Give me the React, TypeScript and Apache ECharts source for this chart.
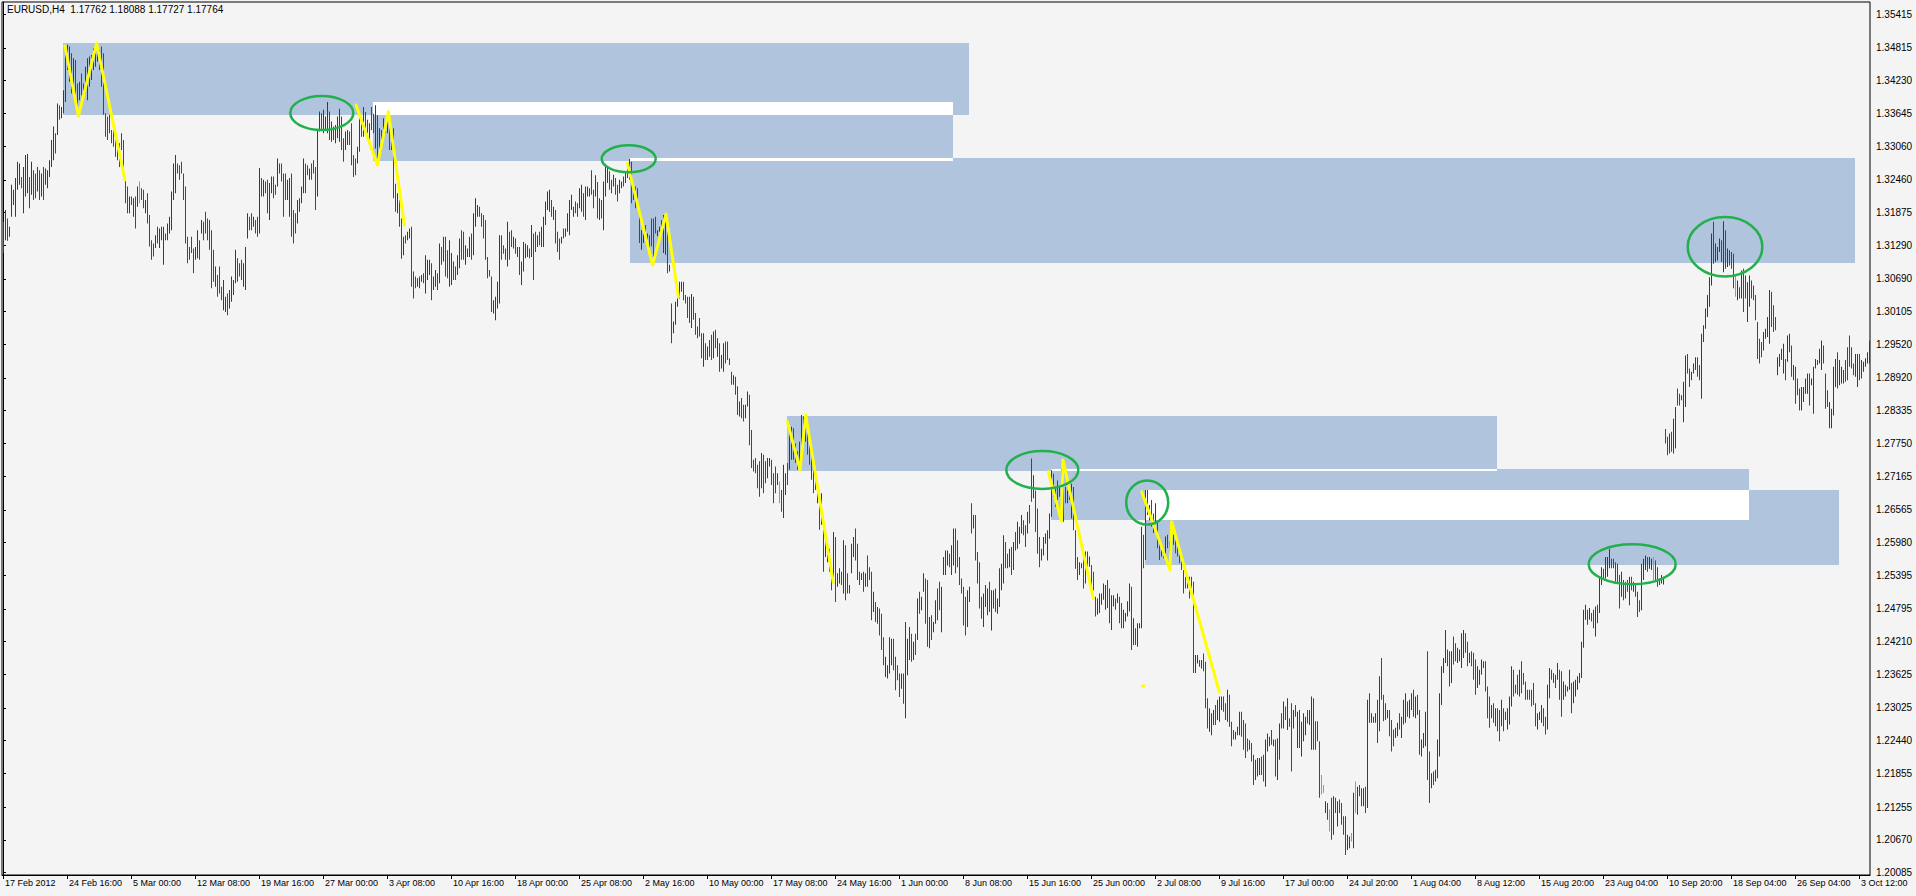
import React, { useEffect, useRef } from 'react';
import * as echarts from 'echarts';

// ---- chart header ----
const SYMBOL_TEXT = 'EURUSD,H4  1.17762 1.18088 1.17727 1.17764';

// ---- price encoding: pips above BASE_PRICE ----
const BASE_PRICE = 1.2;
const PIP = 0.0001;

// ---- time axis: one label every 32 H4 bars ----
const BARS_PER_LABEL = 32;
const X_LABELS = [
  '17 Feb 2012', '24 Feb 16:00', '5 Mar 00:00', '12 Mar 08:00', '19 Mar 16:00', '27 Mar 00:00',
  '3 Apr 08:00', '10 Apr 16:00', '18 Apr 00:00', '25 Apr 08:00', '2 May 16:00', '10 May 00:00',
  '17 May 08:00', '24 May 16:00', '1 Jun 00:00', '8 Jun 08:00', '15 Jun 16:00', '25 Jun 00:00',
  '2 Jul 08:00', '9 Jul 16:00', '17 Jul 00:00', '24 Jul 20:00', '1 Aug 04:00', '8 Aug 12:00',
  '15 Aug 20:00', '23 Aug 04:00', '10 Sep 20:00', '18 Sep 04:00', '26 Sep 04:00', '3 Oct 12:00',
];

// ---- price axis ----
const Y_MIN = 1.20042;
const Y_MAX = 1.35635;
const Y_TICKS = [
  1.35415, 1.34815, 1.3423, 1.33645, 1.3306, 1.3246, 1.31875, 1.3129, 1.3069, 1.30105,
  1.2952, 1.2892, 1.28335, 1.2775, 1.27165, 1.26565, 1.2598, 1.25395, 1.24795, 1.2421,
  1.23625, 1.23025, 1.2244, 1.21855, 1.21255, 1.2067, 1.20085,
];

// ---- H4 bars: high / low in pips above BASE_PRICE ----
const HIGH_PIPS = [
  1171,1192,1177,1162,1237,1228,1249,1278,1275,1251,
  1269,1290,1292,1251,1278,1263,1257,1269,1263,1257,
  1269,1266,1263,1281,1317,1341,1329,1382,1379,1376,
  1406,1484,1487,1484,1472,1463,1460,1418,1421,1436,
  1418,1448,1463,1466,1469,1481,1481,1490,1478,1484,
  1472,1365,1359,1362,1335,1341,1329,1317,1311,1329,
  1317,1246,1234,1216,1216,1213,1216,1234,1243,1231,
  1228,1210,1222,1183,1138,1132,1147,1162,1159,1162,
  1162,1150,1168,1180,1225,1275,1290,1275,1272,1278,
  1257,1234,1144,1126,1144,1123,1126,1156,1138,1174,
  1171,1189,1177,1174,1156,1121,1091,1076,1091,1055,
  1067,1037,1043,1049,1073,1067,1121,1106,1097,1103,
  1097,1126,1186,1180,1186,1180,1174,1180,1267,1249,
  1246,1243,1246,1240,1252,1252,1237,1284,1275,1275,
  1257,1257,1246,1249,1257,1192,1186,1210,1213,1234,
  1284,1275,1272,1266,1275,1281,1269,1335,1368,1365,
  1371,1359,1385,1368,1350,1341,1344,1359,1373,1359,
  1320,1332,1335,1332,1347,1290,1284,1305,1356,1350,
  1376,1367,1353,1347,1376,1364,1379,1361,1338,1335,
  1356,1341,1367,1347,1335,1338,1239,1222,1210,1177,
  1144,1147,1153,1159,1162,1082,1073,1070,1073,1076,
  1079,1111,1103,1103,1097,1073,1085,1079,1132,1126,
  1144,1144,1120,1138,1115,1100,1091,1111,1141,1156,
  1153,1129,1123,1144,1150,1186,1213,1201,1198,1186,
  1183,1174,1108,1085,1073,1031,1037,1064,1147,1147,
  1129,1123,1171,1153,1156,1144,1141,1126,1126,1100,
  1135,1132,1129,1123,1165,1150,1153,1147,1153,1162,
  1180,1207,1225,1228,1210,1198,1192,1153,1141,1144,
  1159,1159,1186,1210,1219,1198,1207,1204,1231,1237,
  1222,1234,1234,1231,1263,1228,1254,1242,1213,1210,
  1243,1270,1267,1261,1246,1255,1249,1237,1246,1243,
  1252,1261,1275,1283,1278,1237,1234,1231,1180,1156,
  1150,1165,1150,1147,1177,1177,1180,1156,1162,1174,
  1183,1180,1156,1094,1025,993,1028,1034,1064,1064,
  1064,1040,1037,1037,1042,1037,1008,984,999,972,
  972,954,948,960,969,975,978,963,954,933,
  954,957,957,927,903,897,894,877,850,856,
  844,844,868,862,799,746,749,737,743,758,
  755,743,749,749,746,722,734,722,707,692,
  737,722,740,793,805,802,775,761,778,826,
  823,826,802,790,775,749,710,686,686,686,
  629,602,587,587,546,617,608,543,552,546,
  602,593,543,522,596,608,623,596,546,543,
  546,543,575,554,546,510,492,483,480,471,
  429,394,379,429,426,426,394,379,364,364,
  364,456,426,447,435,421,435,498,510,501,
  543,534,531,465,468,456,495,516,528,519,
  572,584,584,578,593,623,623,602,572,534,
  519,501,513,519,668,647,647,581,563,501,
  507,522,516,528,513,513,516,498,552,560,
  611,599,578,587,590,599,617,635,626,647,
  638,629,653,665,748,718,691,659,608,587,
  608,614,620,650,727,721,694,709,697,730,
  718,697,691,691,703,697,620,572,563,561,
  576,582,582,573,558,546,501,498,507,507,
  525,522,531,516,504,504,498,507,501,490,
  478,472,493,525,519,463,445,454,454,626,
  612,692,692,665,674,650,668,635,606,594,
  585,609,612,600,612,612,603,600,582,567,
  549,537,528,537,537,528,397,397,388,388,
  400,385,320,302,293,299,308,317,323,323,
  323,311,335,326,278,263,260,269,296,296,
  281,275,248,245,240,219,210,213,213,216,
  219,246,257,251,263,246,246,248,275,293,
  314,305,320,284,311,299,308,296,299,278,
  293,287,299,299,323,320,279,279,243,183,
  165,136,133,121,142,145,142,136,139,133,
  109,109,76,73,79,151,171,162,165,159,
  159,162,317,329,293,287,293,317,359,392,
  326,311,299,299,281,264,267,276,293,287,
  317,329,314,317,329,335,323,326,299,246,
  258,296,404,225,186,189,192,246,329,377,
  392,442,407,404,404,430,418,410,407,436,
  442,436,421,401,404,401,389,377,371,389,
  386,386,341,323,308,311,302,302,299,317,
  302,296,302,323,377,371,344,362,371,386,
  365,350,335,335,335,347,311,293,296,308,
  302,287,344,374,371,365,362,383,371,368,
  350,344,341,371,347,350,353,359,365,421,
  478,487,478,481,472,478,484,487,537,554,
  551,572,572,587,569,569,563,560,540,546,
  531,528,531,537,537,528,522,510,495,560,
  569,575,572,572,569,572,566,554,534,540,
  537,801,787,793,796,819,840,873,864,861,
  885,932,935,909,903,918,929,929,915,971,
  986,1016,1040,1072,1150,1171,1132,1126,1141,1138,
  1172,1156,1123,1120,1117,1114,1075,1066,1054,1084,
  1087,1075,1063,1075,1066,1057,1040,992,962,956,
  974,980,1001,1049,1046,1022,1001,929,935,944,
  953,926,968,971,950,915,912,891,873,876,
  876,891,900,900,891,912,926,924,944,959,
  950,900,870,849,837,912,926,938,924,912,
  906,924,947,968,947,918,935,935,935,924,
  921,927,938,959,
];

const LOW_PIPS = [
  1115,1138,1137,1144,1180,1201,1180,1228,1237,1231,
  1186,1216,1222,1195,1219,1210,1213,1225,1210,1216,
  1210,1237,1231,1251,1269,1281,1293,1326,1353,1356,
  1365,1385,1442,1421,1400,1412,1394,1362,1388,1397,
  1388,1400,1388,1412,1424,1442,1448,1457,1442,1412,
  1362,1323,1317,1329,1311,1305,1287,1281,1269,1299,
  1257,1204,1186,1186,1201,1180,1159,1198,1204,1210,
  1195,1186,1168,1127,1103,1109,1124,1132,1124,1138,
  1094,1138,1138,1150,1156,1210,1222,1257,1246,1257,
  1210,1132,1097,1103,1115,1079,1103,1106,1103,1150,
  1138,1150,1138,1121,1052,1064,1055,1037,1043,1031,
  1013,1010,1004,1016,1028,1040,1061,1064,1073,1067,
  1055,1049,1141,1156,1156,1162,1150,1144,1150,1216,
  1216,1222,1186,1174,1222,1213,1219,1234,1257,1243,
  1180,1210,1210,1180,1144,1132,1150,1168,1189,1204,
  1222,1222,1254,1246,1246,1257,1192,1216,1332,1335,
  1329,1335,1329,1317,1314,1317,1311,1320,1314,1299,
  1278,1299,1308,1308,1272,1251,1254,1275,1296,1323,
  1323,1335,1329,1317,1335,1329,1302,1278,1302,1296,
  1317,1329,1329,1299,1299,1213,1189,1186,1162,1105,
  1111,1132,1138,1141,1055,1034,1052,1055,1052,1064,
  1061,1043,1067,1076,1031,1049,1055,1049,1061,1094,
  1100,1073,1070,1055,1058,1067,1067,1076,1088,1103,
  1103,1094,1108,1108,1103,1111,1162,1180,1180,1162,
  1141,1103,1070,1073,1010,1007,995,1016,1025,1103,
  1114,1103,1091,1103,1126,1123,1114,1108,1076,1058,
  1082,1106,1108,1106,1108,1067,1117,1126,1129,1126,
  1126,1165,1192,1189,1180,1174,1132,1117,1103,1132,
  1141,1144,1153,1147,1192,1180,1186,1180,1195,1189,
  1180,1174,1216,1216,1219,1195,1216,1177,1174,1177,
  1156,1216,1240,1228,1222,1234,1219,1207,1222,1231,
  1234,1240,1249,1246,1204,1210,1195,1207,1133,1121,
  1133,1139,1139,1121,1127,1097,1150,1145,1153,1156,
  1115,1112,1079,1082,954,972,987,1019,1034,1046,
  1031,1025,999,990,981,996,969,963,966,927,
  912,924,924,930,924,927,945,930,903,909,
  903,918,924,915,880,880,862,826,823,820,
  814,820,841,772,731,725,722,695,680,695,
  686,704,713,734,701,668,686,701,668,653,
  642,683,701,728,746,746,740,728,734,740,
  790,778,755,737,710,686,692,668,621,630,
  546,572,563,546,513,525,492,519,525,522,
  507,495,507,507,543,572,566,531,522,531,
  510,519,519,531,459,474,456,453,432,406,
  379,358,355,364,379,370,334,352,322,337,
  310,284,361,388,385,388,397,424,471,477,
  510,453,412,409,424,438,453,459,477,438,
  540,540,557,554,540,557,543,554,522,507,
  450,432,447,492,614,623,566,525,480,462,
  447,483,468,474,441,480,474,471,483,513,
  525,552,552,554,540,549,584,587,596,614,
  611,590,614,632,671,677,617,578,554,566,
  575,596,566,605,644,680,662,674,680,691,
  635,668,668,674,641,620,551,531,540,552,
  516,525,537,555,519,513,466,469,472,487,
  496,478,481,454,442,484,478,490,454,445,
  445,457,466,475,406,415,415,412,445,445,
  552,567,647,638,626,615,632,588,567,573,
  570,564,588,561,573,594,579,573,561,549,
  507,516,516,498,507,365,365,382,376,373,
  368,302,266,260,254,272,272,281,278,299,
  296,281,278,269,234,246,246,254,254,251,
  228,213,225,228,207,165,174,180,183,183,
  171,162,225,234,237,234,180,174,210,266,
  266,281,263,269,189,266,287,231,231,216,
  243,254,275,272,228,228,228,243,142,148,
  151,115,103,82,67,76,115,91,115,94,
  76,40,49,52,64,52,115,112,145,127,
  127,115,124,276,276,276,276,240,261,317,
  279,281,284,252,225,234,249,252,264,249,
  273,276,287,284,299,287,284,290,219,216,
  231,234,174,133,159,165,171,177,216,308,
  365,383,377,341,347,380,386,383,386,374,
  392,401,377,383,377,353,326,338,344,362,
  374,332,284,267,284,276,270,261,243,270,
  261,281,264,273,305,323,329,326,323,329,
  344,317,317,317,305,308,270,264,281,276,
  270,255,264,320,353,347,338,353,317,287,
  317,323,332,335,293,311,323,335,347,356,
  410,460,451,460,457,445,430,454,472,522,
  531,534,537,552,552,552,528,525,480,501,
  495,498,510,486,513,510,501,465,474,477,
  531,549,546,551,549,531,531,519,522,525,
  523,775,754,757,760,757,766,843,843,852,
  813,840,900,876,888,900,906,894,888,855,
  956,980,1001,1019,1057,1096,1099,1102,1117,1099,
  1081,1087,1090,1093,1087,1052,1037,1031,1034,1034,
  1010,1034,992,1019,1034,1031,995,926,918,929,
  941,962,965,953,983,974,977,897,912,924,
  900,888,921,938,894,888,846,861,834,834,
  849,864,864,843,879,828,909,915,918,906,
  918,837,840,802,802,825,876,873,879,882,
  882,885,888,912,909,897,894,876,888,891,
  903,912,918,918,
];

// bar colour per bar: g = up, r = down, l = up (light)
const BAR_DIRS = [
  'ggrggggggr', 'gggrgrrgrg', 'rgggggrgrg', 'ggggrgrrgr', 'rgggggggrr', 'rrrrrrrrrr',
  'rrrgrgrglr', 'rgrrrrgrgg', 'grgggggrrr', 'rrrrrrggrg', 'rrrrrrgrrr', 'ggrggggrrr',
  'gggrrgrrgr', 'grrggrrgrr', 'rrggrrrggg', 'grrgrrrggr', 'gggr',
  'grgggrrggr', 'rrrggrgrrg', 'rrgrgrgggr', 'rrrgrrgrgg', 'rrrgggrggg', 'rggrgrgrrg',
  'grrggrrggg', 'rgggrrrrrr', 'rggggrrrgr', 'rgrgrggggr', 'grrgrggggg', 'rgrrrgrggg',
  'ggrrggrggg', 'rrgrg',
  'rgggrrgrrg', 'grgrgrrrrr', 'ggrgrrrrgg', 'rggrgrgggg', 'grrrrgrrrr', 'rgrgrrgrgr',
  'ggrrrrgrrg', 'rrggrrrrrr', 'grrggrrrgl', 'rggrggrrrg', 'grgrrrrrgr', 'g',
  'rggrrgrggr', 'grrrggrrrg', 'rgrrrgrgrr', 'rggggrrrrg', 'rgggrgrgrg', 'grrgrggrrg',
  'gggrggrrrr', 'rrggrgrrrr', 'gggrggrggg', 'grrgrgrggg', 'rrgrrgrrrg', 'gggggrrrgg',
  'rrgrgrrrg',
  'grgrgrrrgg', 'gggrrggrgr', 'rggggrgrgg', 'grgrgrrgrr', 'grgrrgrrrr', 'rrrrrrrggr',
  'grrrgggrgg', 'grrgrrrggg', 'rrrrgrrggg', 'rrgggrgrgg', 'rgrgrrgrgr', 'gggrggr',
  'rrrllgrlrg', 'rgrrrrgglg', 'lgrrgrgrgg', 'grgrrrgrrr', 'ggrgggrggr', 'grrgggrrgr',
  'ggggggrrgr', 'rggggrrgrr', 'rgggrrrrgr', 'grrgrrgggr', 'rrgrrrrrrr', 'rgggrrggrr',
  'rgrrgrggrg', 'ggggggrgrr', 'grg',
  'grgggrrrrr', 'grrrgrgrrr', 'gggrgglrrg', 'ggrrgrggrr', 'gggrrgggrr', 'ggggggrggg',
  'rgrgrrrlgr', 'grrggrrrrr', 'rggggrrrgg', 'ggrggrgrrr', 'ggggrgggrg', 'grrrggggrg',
  'ggrrrrrggr', 'ggggg',
].join('');
const DIR_CODES = 'grl';
const BAR_COLORS = ['#006400', '#ee0000', '#2fe02f'];

// ---- supply zones: [first bar, last bar, top price, bottom price] ----
const ZONE_A = [30, 483, 1.34902, 1.33616];
const ZONE_B = [185, 475, 1.33848, 1.32795];
const ZONE_C = [313.5, 926, 1.32848, 1.30973];
const ZONE_D = [392, 747, 1.2824, 1.27258];
const ZONE_E = [524, 873, 1.27294, 1.26383];
const ZONE_F = [571, 918, 1.26919, 1.2558];
const ZONES = [ZONE_A, ZONE_B, ZONE_C, ZONE_D, ZONE_E, ZONE_F];

// ---- zigzag swings: [bar, price] points ----
const SWING_1 = [[31, 1.34848], [37.7, 1.33598], [46.8, 1.34896], [61, 1.32455]];
const SWING_2 = [[176.5, 1.33795], [187.2, 1.32723], [192.7, 1.33675], [200.7, 1.3165]];
const SWING_3 = [[312.2, 1.32753], [324.8, 1.30937], [331.5, 1.31848], [337.7, 1.3037]];
const SWING_4 = [[392.2, 1.28138], [398.5, 1.27276], [401.35, 1.28258], [415.15, 1.25263]];
const SWING_5 = [[522.65, 1.27245], [529.2, 1.26365], [530, 1.27454], [545.15, 1.24984]];
const SWING_6 = [[569.35, 1.26888], [583.5, 1.2549], [584.35, 1.26352], [608.15, 1.23316]];
const SWING_7 = [[569.7, 1.2342], [570.5, 1.2342]];
const SWINGS = [SWING_1, SWING_2, SWING_3, SWING_4, SWING_5, SWING_6, SWING_7];

// ---- highlighted tops: [centre bar, centre price, x radius in bars, y radius in price] ----
const MARK_1 = [159.4, 1.33652, 15.75, 0.00304];
const MARK_2 = [312.85, 1.32834, 13.5, 0.00241];
const MARK_3 = [519.65, 1.27276, 18, 0.00339];
const MARK_4 = [572.1, 1.26695, 10.5, 0.00393];
const MARK_5 = [861, 1.31264, 18.65, 0.0053];
const MARK_6 = [814.6, 1.25593, 21.75, 0.00357];
const MARKS = [MARK_1, MARK_2, MARK_3, MARK_4, MARK_5, MARK_6];

const FONT = 'Tahoma, "Liberation Sans", Arial, sans-serif';

function buildOption() {
  const n = Math.min(HIGH_PIPS.length, LOW_PIPS.length, BAR_DIRS.length);
  const bars: number[][] = [];
  for (let i = 0; i < n; i++) {
    bars.push([
      i,
      BASE_PRICE + HIGH_PIPS[i] * PIP,
      BASE_PRICE + LOW_PIPS[i] * PIP,
      Math.max(0, DIR_CODES.indexOf(BAR_DIRS[i])),
    ]);
  }

  // zones are filled; where two zones overlap the fill cancels out to white
  const zoneData: number[][] = ZONES.map((z) => [z[0], z[1], z[2], z[3], 0]);
  for (let a = 0; a < ZONES.length; a++) {
    for (let b = a + 1; b < ZONES.length; b++) {
      const za = ZONES[a];
      const zb = ZONES[b];
      const x1 = Math.max(za[0], zb[0]);
      const x2 = Math.min(za[1], zb[1]);
      const top = Math.min(za[2], zb[2]);
      const bot = Math.max(za[3], zb[3]);
      if (x1 < x2 && top > bot) zoneData.push([x1, x2, top, bot, 1]);
    }
  }

  const labelIdx = X_LABELS.map((_, k) => k * BARS_PER_LABEL);

  const swingSeries = SWINGS.map((pts) => ({
    type: 'line',
    data: pts,
    showSymbol: false,
    symbol: 'none',
    silent: true,
    z: 4,
    lineStyle: { color: '#ffff00', width: 3, cap: 'round', join: 'round' },
  }));

  return {
    animation: false,
    backgroundColor: '#f4f4f4',
    title: {
      text: SYMBOL_TEXT,
      left: 2,
      top: 0,
      padding: [4, 5, 0, 5],
      textStyle: { fontSize: 10, fontWeight: 'normal', color: '#000', fontFamily: FONT },
    },
    grid: {
      left: 2,
      right: 46,
      top: 2,
      bottom: 21,
      show: true,
      borderColor: '#000',
      borderWidth: 1,
      backgroundColor: 'transparent',
    },
    xAxis: {
      type: 'value',
      min: -0.5,
      max: n - 0.5,
      axisLine: { show: true, lineStyle: { color: '#000', width: 1 } },
      axisTick: { show: true, customValues: labelIdx, length: 4, lineStyle: { color: '#000' } },
      axisLabel: {
        customValues: labelIdx,
        formatter: (v: number) => X_LABELS[Math.round(v / BARS_PER_LABEL)] ?? '',
        align: 'left',
        padding: [0, 0, 0, 2],
        margin: 3,
        fontSize: 9,
        color: '#000',
        fontFamily: FONT,
      },
      splitLine: { show: false },
    },
    yAxis: {
      type: 'value',
      position: 'right',
      min: Y_MIN,
      max: Y_MAX,
      axisLine: { show: true, lineStyle: { color: '#000', width: 1 } },
      axisTick: { show: true, customValues: Y_TICKS, length: 3, lineStyle: { color: '#000' } },
      axisLabel: {
        customValues: Y_TICKS,
        formatter: (v: number) => v.toFixed(5),
        margin: 6,
        fontSize: 10,
        color: '#000',
        fontFamily: FONT,
      },
      splitLine: { show: false },
    },
    series: [
      {
        type: 'custom',
        silent: true,
        z: 1,
        data: zoneData,
        encode: { x: [0, 1], y: [2, 3] },
        renderItem: (_p: any, api: any) => {
          const p1 = api.coord([api.value(0), api.value(2)]);
          const p2 = api.coord([api.value(1), api.value(3)]);
          const x = Math.round(p1[0]);
          const y = Math.round(p1[1]);
          return {
            type: 'rect',
            shape: { x, y, width: Math.round(p2[0]) - x, height: Math.round(p2[1]) - y },
            style: { fill: api.value(4) === 1 ? '#ffffff' : '#b0c4de' },
          };
        },
      },
      {
        type: 'custom',
        silent: true,
        z: 3,
        data: bars,
        encode: { x: 0, y: [1, 2] },
        renderItem: (_p: any, api: any) => {
          const hi = api.coord([api.value(0), api.value(1)]);
          const lo = api.coord([api.value(0), api.value(2)]);
          return {
            type: 'rect',
            shape: {
              x: Math.floor(hi[0] + 0.01),
              y: hi[1],
              width: 1,
              height: Math.max(1, lo[1] - hi[1]),
            },
            style: { fill: BAR_COLORS[api.value(3)] },
          };
        },
      },
      ...swingSeries,
      {
        type: 'custom',
        silent: true,
        z: 5,
        data: MARKS,
        encode: { x: 0, y: 1 },
        renderItem: (_p: any, api: any) => {
          const c = api.coord([api.value(0), api.value(1)]);
          const s = api.size([api.value(2), api.value(3)]);
          return {
            type: 'ellipse',
            shape: { cx: c[0], cy: c[1], rx: s[0], ry: s[1] },
            style: { fill: 'none', stroke: '#22b04c', lineWidth: 2.5 },
          };
        },
      },
    ],
  };
}

export default function App() {
  const ref = useRef<HTMLDivElement>(null);
  useEffect(() => {
    if (!ref.current) return;
    const chart = echarts.init(ref.current, null, { renderer: 'svg' });
    chart.setOption(buildOption() as any);
    return () => {
      chart.dispose();
    };
  }, []);
  return (
    <div
      ref={ref}
      style={{ position: 'absolute', left: 0, top: 0, width: 1916, height: 896 }}
    />
  );
}
